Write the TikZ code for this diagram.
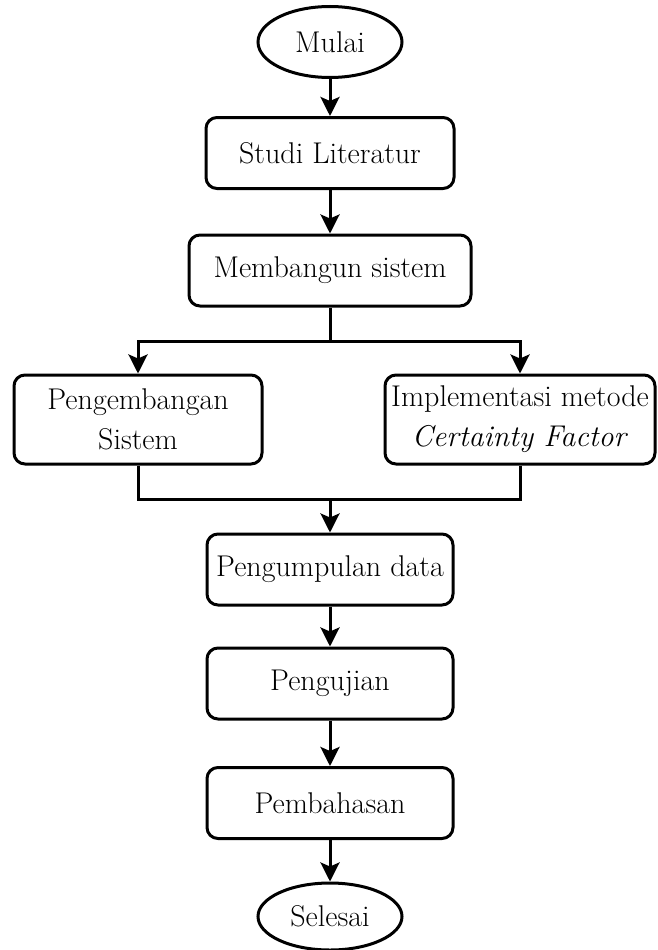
\documentclass[tikz,border=0pt]{standalone}
\usetikzlibrary{shapes.geometric,arrows.meta}
\begin{document}
\begin{tikzpicture}[x=1pt,y=-1pt,
  every node/.style={font=\fontsize{30}{40}\selectfont, inner sep=0pt, align=center},
  proc/.style={draw, line width=3pt, rounded corners=11pt, minimum height=71pt},
  term/.style={draw, line width=3pt, ellipse, minimum width=144pt, minimum height=71pt},
  flow/.style={line width=3pt, -{Stealth[length=19pt,width=19pt,inset=4pt]}},
  link/.style={line width=3pt}]
\useasboundingbox (0,0) rectangle (657,950);

% terminals and process boxes
\node[term] (mulai) at (330,42) {Mulai};
\node[proc, minimum width=248pt] (studi) at (330,153) {Studi Literatur};
\node[proc, minimum width=282pt] (bangun) at (330,270.5) {Membangun sistem};
\node[proc, minimum width=248pt, minimum height=89pt] (kiri) at (138,419.5) {Pengembangan\\Sistem};
\node[proc, minimum width=270pt, minimum height=89pt] (kanan) at (520,419.5) {Implementasi metode\\\textit{Certainty Factor}};
\node[proc, minimum width=246pt] (data) at (330,569.5) {Pengumpulan data};
\node[proc, minimum width=246pt] (uji) at (330,683.5) {Pengujian};
\node[proc, minimum width=246pt] (bahas) at (330,803) {Pembahasan};
\node[term, minimum height=67pt] (selesai) at (330,916.5) {Selesai};

% branch and merge points
\coordinate (cabang) at (330,341);
\coordinate (gabung) at (330,499);

% connectors
\draw[flow] (mulai) -- (studi);
\draw[flow] (studi) -- (bangun);
\draw[link] (bangun) -- (cabang);
\draw[flow] (cabang) -| (kiri);
\draw[flow] (cabang) -| (kanan);
\draw[link] (kiri) |- (gabung);
\draw[link] (kanan) |- (gabung);
\draw[flow] (gabung) -- (data);
\draw[flow] (data) -- (uji);
\draw[flow] (uji) -- (bahas);
\draw[flow] (bahas) -- (selesai);
\end{tikzpicture}
\end{document}
